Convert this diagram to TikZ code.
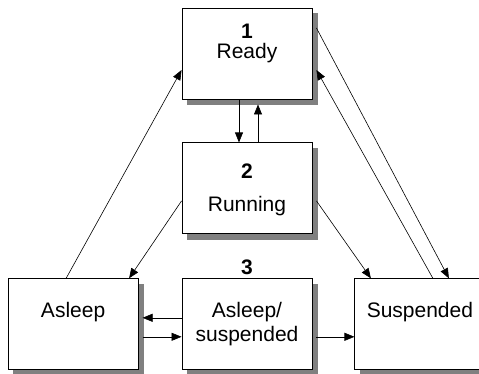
\documentclass[tikz,border=0pt]{standalone}
\usepackage{fontspec}
\setmainfont{Liberation Sans}
\usetikzlibrary{positioning,arrows.meta,backgrounds}
\tikzset{every picture/.style={line width=0.6pt}}

\begin{document}
\begin{tikzpicture}[x=1pt,y=1pt,
		state/.style={shape=rectangle, draw, fill=white, line width=0.9pt,
			minimum width=130pt, minimum height=91pt},
		txt/.style={font=\fontsize{21}{24}\selectfont, anchor=base, inner sep=0pt},
		num/.style={txt, font=\fontsize{21}{24}\selectfont\bfseries},
		link/.style={-{Triangle[length=10pt,width=8pt]}}
	]
	\useasboundingbox (0,0) rectangle (479,373);
	% states
	\node[state] (ready) at (247,319.5) {};
	\node[state, below=43pt of ready] (running) {};
	\node[state, below=44pt of running] (both) {};
	\node[state, left=43pt of both] (asleep) {};
	\node[state, right=42pt of both] (suspended) {};
	% shadows
	\begin{scope}[on background layer]
		\foreach \n in {ready,running,both,asleep,suspended}
		\fill[black!50] ([shift={(5.5pt,-5.5pt)}]\n.south west) rectangle ([shift={(5.5pt,-5.5pt)}]\n.north east);
	\end{scope}
	% texts
	\node[num] (ready-num) at ([yshift=-31pt]ready.north) {1};
	\node[txt] (ready-txt) at ([yshift=-51pt]ready.north) {Ready};
	\node[num] (running-num) at ([yshift=-36pt]running.north) {2};
	\node[txt] (running-txt) at ([yshift=-69pt]running.north) {Running};
	\node[num] (both-num) at ([yshift=4pt]both.north) {3};
	\node[txt] (asleep-txt) at ([yshift=-39pt]asleep.north) {Asleep};
	\node[txt] (both-txt) at ([yshift=-39pt]both.north) {Asleep/};
	\node[txt] (both-txt2) at ([yshift=-63pt]both.north) {suspended};
	\node[txt] (suspended-txt) at ([yshift=-39pt]suspended.north) {Suspended};
	% transitions
	\draw[link] ([xshift=-8pt]ready.south) -- ([xshift=-8pt]running.north);
	\draw[link] ([xshift=11pt]running.north) -- ([xshift=11pt,yshift=-5pt]ready.south);
	\draw[link] ([xshift=-7pt]asleep.north) -- ([yshift=-16.5pt]ready.west);
	\draw[link] ([yshift=-12.5pt]running.west) -- ([xshift=56pt]asleep.north);
	\draw[link] ([xshift=4pt,yshift=-12.5pt]running.east) -- ([xshift=-49pt]suspended.north);
	\draw[link] ([xshift=4pt,yshift=25.5pt]ready.east) -- ([xshift=29pt]suspended.north);
	\draw[link] ([xshift=13pt]suspended.north) -- ([xshift=4pt,yshift=-16.5pt]ready.east);
	\draw[link] ([yshift=6.5pt]both.west) -- ([xshift=4pt,yshift=6.5pt]asleep.east);
	\draw[link] ([xshift=4pt,yshift=-12.5pt]asleep.east) -- ([yshift=-12.5pt]both.west);
	\draw[link] ([xshift=4pt,yshift=-12.5pt]both.east) -- ([yshift=-12.5pt]suspended.west);
\end{tikzpicture}
\end{document}
